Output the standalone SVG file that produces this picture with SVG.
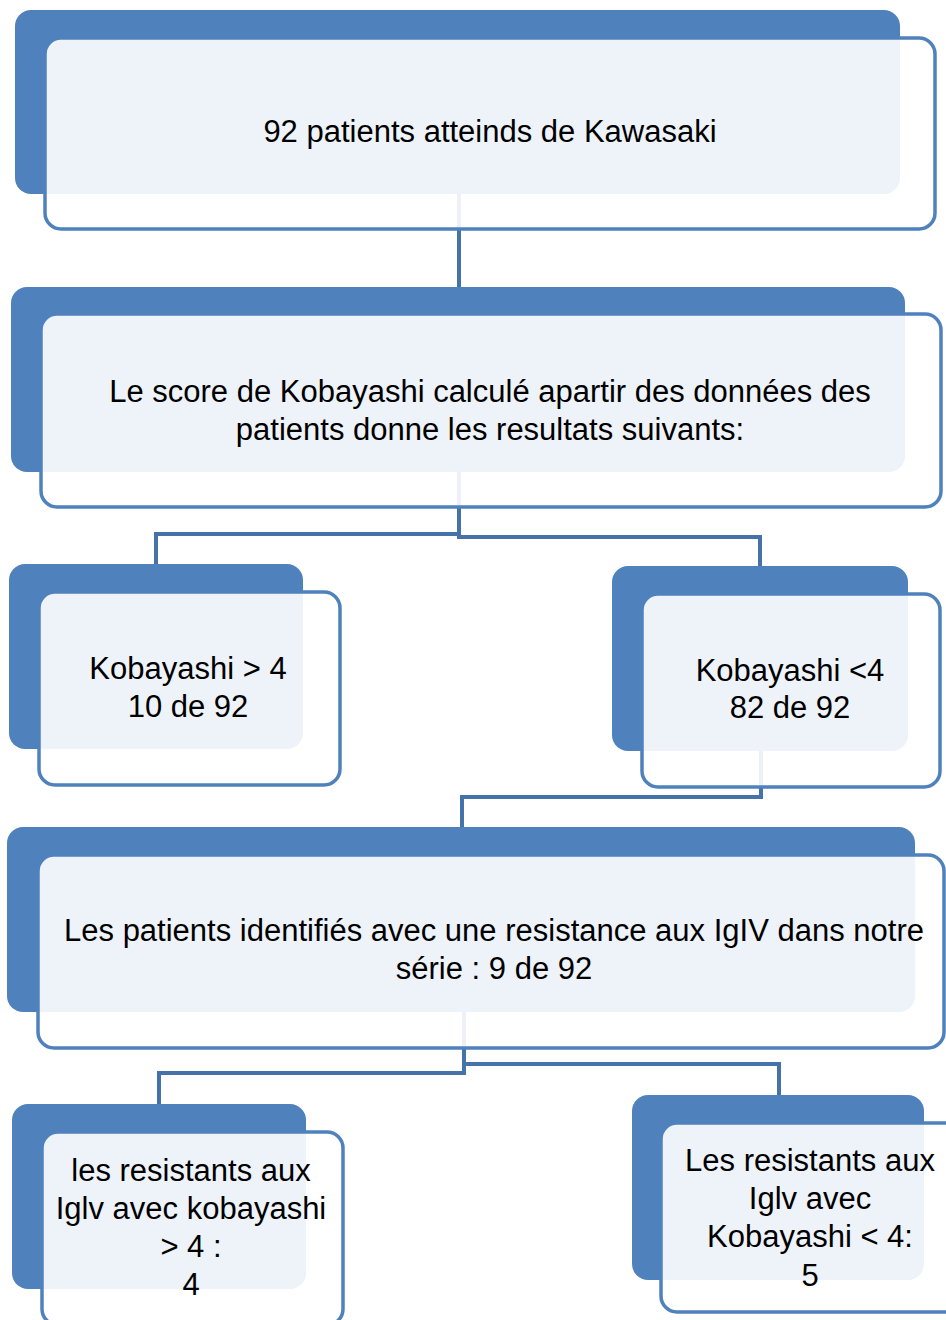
<svg xmlns="http://www.w3.org/2000/svg" width="946" height="1320" viewBox="0 0 946 1320">
<style>
.back{fill:#4F81BD}
.front{fill:#FFFFFF;fill-opacity:0.9;stroke:#4F81BD;stroke-width:3.5}
.conn{fill:none;stroke:#4572A9;stroke-width:4}
text{font-family:"Liberation Sans",Arial,sans-serif;font-size:31px;fill:#000;text-anchor:middle}
</style>
<rect width="946" height="1320" fill="#fff"/>
<g id="connectors">
<path class="conn" d="M459,194 V290"/>
<path class="conn" d="M459,472 V534 H156 V566"/>
<path class="conn" d="M459,472 V537 H760 V568"/>
<path class="conn" d="M761,751 V797 H462 V829"/>
<path class="conn" d="M464,1012 V1073 H159 V1106"/>
<path class="conn" d="M464,1012 V1064 H779 V1097"/>
</g>
<g id="node1">
<rect class="back" x="15" y="10" width="885" height="184" rx="16"/>
<rect class="front" x="45" y="38" width="890" height="191" rx="16"/>
<text x="490" y="142">92 patients atteinds de Kawasaki</text>
</g>
<g id="node2">
<rect class="back" x="11" y="287" width="894" height="185" rx="16"/>
<rect class="front" x="41" y="314" width="900" height="193" rx="16"/>
<text x="490" y="402">Le score de Kobayashi calculé apartir des données des</text>
<text x="490" y="440">patients donne les resultats suivants:</text>
</g>
<g id="node3">
<rect class="back" x="9" y="564" width="294" height="185" rx="16"/>
<rect class="front" x="39" y="592" width="301" height="193" rx="16"/>
<text x="188" y="679">Kobayashi &gt; 4</text>
<text x="188" y="717">10 de 92</text>
</g>
<g id="node4">
<rect class="back" x="612" y="566" width="296" height="185" rx="16"/>
<rect class="front" x="642" y="594" width="298" height="193" rx="16"/>
<text x="790" y="681">Kobayashi &lt;4</text>
<text x="790" y="718">82 de 92</text>
</g>
<g id="node5">
<rect class="back" x="7" y="827" width="908" height="185" rx="16"/>
<rect class="front" x="38" y="855" width="906" height="193" rx="16"/>
<text x="494" y="941">Les patients identifiés avec une resistance aux IgIV dans notre</text>
<text x="494" y="979">série : 9 de 92</text>
</g>
<g id="node6">
<rect class="back" x="12" y="1104" width="294" height="185" rx="16"/>
<rect class="front" x="42" y="1132" width="301" height="193" rx="16"/>
<text x="191" y="1181">les resistants aux</text>
<text x="191" y="1219">Iglv avec kobayashi</text>
<text x="191" y="1257">&gt; 4 :</text>
<text x="191" y="1295">4</text>
</g>
<g id="node7">
<rect class="back" x="632" y="1095" width="292" height="185" rx="16"/>
<rect class="front" x="661" y="1123" width="300" height="189" rx="16"/>
<text x="810" y="1171">Les resistants aux</text>
<text x="810" y="1209">Iglv avec</text>
<text x="810" y="1247">Kobayashi &lt; 4:</text>
<text x="810" y="1286">5</text>
</g>
</svg>
